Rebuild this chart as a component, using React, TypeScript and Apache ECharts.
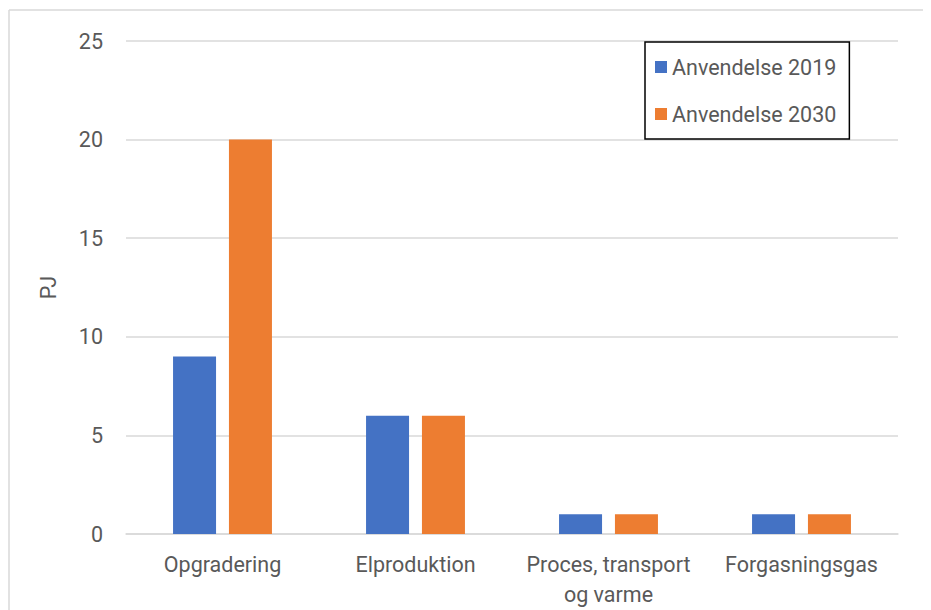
import React, { useEffect, useRef } from "react";
import * as echarts from "echarts";

const categories = ["Opgradering", "Elproduktion", "Proces, transport\nog varme", "Forgasningsgas"];
const series2019 = [9, 6, 1, 1];
const series2030 = [20, 6, 1, 1];
const seriesNames = ["Anvendelse 2019", "Anvendelse 2030"];
const yTicks = { min: 0, max: 25, interval: 5 };

const FONT = "Roboto";
const GREY = "#595959";

export default function App() {
  const ref = useRef<HTMLDivElement>(null);
  useEffect(() => {
    const chart = echarts.init(ref.current!, null, { renderer: "svg" });
    chart.setOption({
      animation: false,
      textStyle: { fontFamily: FONT },
      grid: { left: 118, width: 772, top: 33, height: 493, containLabel: false },
      graphic: [
        {
          type: "line",
          shape: { x1: 1, y1: 2, x2: 1000, y2: 2 },
          style: { stroke: "#d9d9d9", lineWidth: 1.5 },
          silent: true,
        },
        {
          type: "line",
          shape: { x1: 1, y1: 2, x2: 1, y2: 800 },
          style: { stroke: "#d9d9d9", lineWidth: 1.5 },
          silent: true,
        },
      ],
      legend: {
        orient: "vertical",
        left: 637,
        top: 34,
        borderColor: "#000",
        borderWidth: 1.5,
        padding: [14, 13, 14, 10],
        itemGap: 25,
        itemWidth: 12,
        itemHeight: 12,
        icon: "rect",
        textStyle: { fontFamily: FONT, fontSize: 21.5, color: GREY },
        data: seriesNames,
      },
      xAxis: {
        type: "category",
        data: categories,
        axisLine: { lineStyle: { color: "#d9d9d9", width: 1.5 } },
        axisTick: { show: false },
        axisLabel: { color: GREY, fontSize: 21.5, fontFamily: FONT, margin: 15, lineHeight: 30, interval: 0 },
      },
      yAxis: {
        type: "value",
        min: yTicks.min,
        max: yTicks.max,
        interval: yTicks.interval,
        name: "PJ",
        nameLocation: "middle",
        nameRotate: 90,
        nameGap: 67,
        nameTextStyle: { color: GREY, fontSize: 21.5, fontFamily: FONT },
        axisLine: { show: false },
        axisTick: { show: false },
        splitLine: { lineStyle: { color: "#d9d9d9", width: 1.5 } },
        axisLabel: { color: GREY, fontSize: 21.5, fontFamily: FONT, margin: 23 },
      },
      series: [
        {
          name: seriesNames[0],
          type: "bar",
          data: series2019,
          barWidth: 43,
          barGap: "30%",
          itemStyle: { color: "#4472C4" },
        },
        {
          name: seriesNames[1],
          type: "bar",
          data: series2030,
          barWidth: 43,
          barGap: "30%",
          itemStyle: { color: "#ED7D31" },
        },
      ],
    });
    return () => chart.dispose();
  }, []);
  return <div ref={ref} style={{ width: 923, height: 602 }} />;
}
